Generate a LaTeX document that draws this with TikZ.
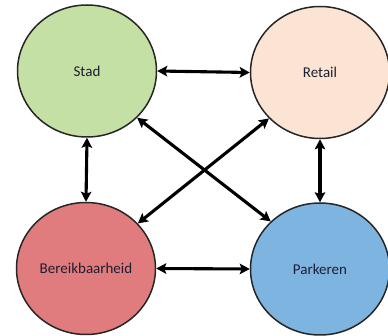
\documentclass[tikz,border=0pt]{standalone}
\usepackage{fontspec}
\setmainfont{Carlito}
\usetikzlibrary{shapes.geometric,arrows.meta}
\definecolor{stadc}{RGB}{197,224,165}
\definecolor{retailc}{RGB}{252,228,212}
\definecolor{bereikc}{RGB}{224,124,125}
\definecolor{parkc}{RGB}{126,180,224}
\definecolor{txtc}{RGB}{30,30,50}
\tikzset{
  bubble/.style={ellipse, draw=black!85, line width=1.5pt, minimum width=139pt, minimum height=132pt, inner sep=0pt, font=\fontsize{15}{18}\selectfont, text=txtc},
  link/.style={line width=3.1pt, {Stealth[length=10pt,width=10.5pt,inset=2pt]}-{Stealth[length=10pt,width=10.5pt,inset=2pt]}}
}
\begin{document}
\begin{tikzpicture}[x=1pt,y=-1pt]
\useasboundingbox (0,0) rectangle (388,336);
\node[bubble, fill=stadc] (stad) at (87,71) {Stad};
\node[bubble, fill=retailc] (retail) at (320,72.5) {Retail};
\node[bubble, fill=bereikc] (bereik) at (86,268.5) {Bereikbaarheid};
\node[bubble, fill=parkc] (park) at (320,269) {Parkeren};
\draw[link] (stad.east) -- (retail.west);
\draw[link] (bereik.east) -- (park.west);
\draw[link] (stad.south) -- (bereik.north);
\draw[link] (retail.south) -- (park.north);
\draw[link] (stad.-43) -- (park.136);
\draw[link] (retail.222) -- (bereik.41);
\end{tikzpicture}
\end{document}
